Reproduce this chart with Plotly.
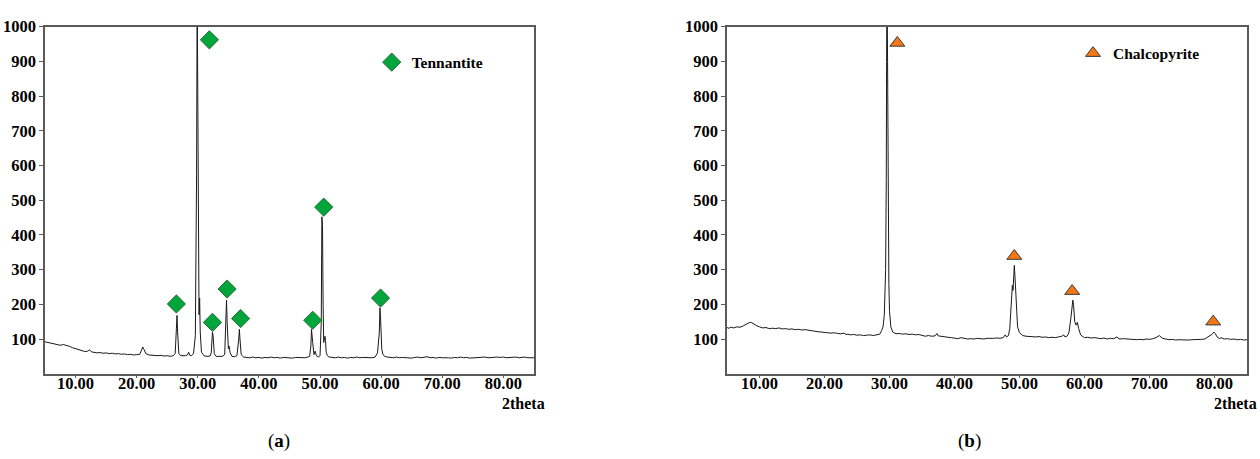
import plotly.graph_objects as go

# ---------------- (a) tennantite concentrate pattern ----------------
tth_a = [5.0, 5.5, 6.0, 6.5, 7.0, 7.5, 8.0, 8.5, 9.0, 9.5, 10.0, 10.5, 11.0, 11.5, 12.0, 12.3, 12.6,
         13.0, 13.5, 14.0, 14.5, 15.0, 15.5, 16.0, 16.5, 17.0, 17.5, 18.0, 18.5, 19.0, 19.5, 20.0, 20.5,
         20.8, 21.0, 21.2, 21.5, 22.0, 22.5, 23.0, 23.5, 24.0, 24.5, 25.0, 25.5, 26.0, 26.3, 26.5, 26.6,
         26.7, 26.9, 27.2, 27.6, 28.0, 28.3, 28.5, 28.7, 29.0, 29.3, 29.6, 29.8, 29.9, 30.0, 30.1, 30.2,
         30.3, 30.4, 30.6, 31.0, 31.5, 32.0, 32.2, 32.4, 32.5, 32.7, 33.0, 33.5, 34.0, 34.4, 34.6, 34.7,
         34.8, 35.0, 35.1, 35.3, 35.6, 36.0, 36.4, 36.7, 36.8, 36.9, 37.1, 37.5, 38.0, 38.5, 39.0, 39.5,
         40.0, 40.5, 41.0, 41.5, 42.0, 42.5, 43.0, 43.5, 44.0, 44.5, 45.0, 45.5, 46.0, 46.5, 47.0, 47.5,
         48.0, 48.3, 48.5, 48.6, 48.8, 49.0, 49.2, 49.4, 49.7, 50.0, 50.2, 50.3, 50.4, 50.5, 50.6, 50.8,
         50.9, 51.0, 51.2, 51.5, 52.0, 52.5, 53.0, 53.5, 54.0, 54.5, 55.0, 55.5, 56.0, 56.5, 57.0, 57.5,
         58.0, 58.5, 59.0, 59.4, 59.7, 59.8, 59.9, 60.0, 60.1, 60.3, 60.6, 61.0, 61.5, 62.0, 62.5, 63.0,
         63.5, 64.0, 64.5, 65.0, 65.5, 66.0, 66.5, 67.0, 67.5, 68.0, 68.5, 69.0, 69.5, 70.0, 70.5, 71.0,
         71.5, 72.0, 72.5, 73.0, 73.5, 74.0, 74.5, 75.0, 75.5, 76.0, 76.5, 77.0, 77.5, 78.0, 78.5, 79.0,
         79.5, 80.0, 80.5, 81.0, 81.5, 82.0, 82.5, 83.0, 83.5, 84.0, 84.5, 85.0]
counts_a = [92, 90, 87, 86, 83, 82, 84, 82, 79, 75, 72, 69, 66, 64, 65, 69, 63,
            62, 60, 61, 59, 60, 58, 59, 57, 58, 56, 57, 55, 56, 54, 55, 56,
            68, 77, 70, 58, 54, 53, 54, 52, 53, 51, 52, 50, 52, 58, 130, 168,
            120, 58, 52, 51, 52, 54, 62, 53, 52, 58, 110, 570, 1100, 800, 210, 170,
            218, 120, 62, 52, 50, 51, 60, 120, 110, 58, 50, 49, 50, 55, 150, 212,
            150, 72, 80, 60, 50, 49, 52, 100, 128, 100, 55, 48, 47, 46, 48, 46,
            47, 45, 47, 46, 48, 46, 47, 45, 47, 46, 47, 45, 47, 46, 47, 46,
            48, 50, 80, 128, 90, 55, 65, 52, 48, 52, 150, 452, 430, 200, 90, 108,
            95, 62, 52, 48, 47, 46, 48, 46, 47, 45, 47, 46, 48, 46, 47, 46,
            47, 46, 48, 60, 120, 190, 160, 120, 70, 55, 50, 48, 47, 46, 48, 46,
            47, 46, 47, 45, 47, 48, 46, 47, 49, 46, 47, 45, 47, 46, 47, 46,
            45, 47, 46, 48, 46, 47, 45, 46, 47, 46, 47, 48, 46, 47, 46, 48,
            47, 48, 46, 47, 46, 48, 46, 47, 48, 46, 47, 46]

ten_tth = [26.5, 31.9, 32.4, 34.8, 37.0, 48.8, 50.6, 59.9]
ten_int = [201, 962, 148, 244, 159, 154, 480, 218]

# ---------------- (b) chalcopyrite concentrate pattern ----------------
tth_b = [5.0, 5.3, 5.6, 6.0, 6.5, 7.0, 7.5, 8.0, 8.5, 8.8, 9.2, 9.6, 10.0, 10.5, 11.0, 11.5, 12.0,
         12.5, 13.0, 13.5, 14.0, 14.5, 15.0, 15.5, 16.0, 16.5, 17.0, 17.5, 18.0, 18.5, 19.0, 19.5, 20.0,
         20.5, 21.0, 21.5, 22.0, 22.5, 23.0, 23.3, 23.6, 24.0, 24.5, 25.0, 25.5, 26.0, 26.5, 27.0, 27.5,
         28.0, 28.5, 28.8, 29.0, 29.2, 29.4, 29.5, 29.6, 29.7, 29.8, 29.9, 30.0, 30.2, 30.5, 31.0, 31.5,
         32.0, 32.5, 33.0, 33.5, 34.0, 34.5, 35.0, 35.5, 36.0, 36.5, 37.0, 37.3, 37.5, 38.0, 38.5, 39.0,
         39.5, 40.0, 40.5, 41.0, 41.5, 42.0, 42.5, 43.0, 43.5, 44.0, 44.5, 45.0, 45.5, 46.0, 46.5, 47.0,
         47.5, 47.8, 48.0, 48.3, 48.5, 48.7, 48.9, 49.0, 49.1, 49.2, 49.3, 49.5, 49.7, 50.0, 50.5, 51.0,
         51.5, 52.0, 52.5, 53.0, 53.5, 54.0, 54.5, 55.0, 55.5, 56.0, 56.5, 56.8, 57.0, 57.3, 57.6, 57.9,
         58.1, 58.2, 58.3, 58.5, 58.7, 58.9, 59.1, 59.4, 59.8, 60.0, 60.5, 61.0, 61.5, 62.0, 62.5, 63.0,
         63.5, 64.0, 64.5, 65.0, 65.3, 66.0, 66.5, 67.0, 67.5, 68.0, 68.5, 69.0, 69.5, 70.0, 70.5, 71.0,
         71.5, 71.8, 72.0, 72.5, 73.0, 73.5, 74.0, 74.5, 75.0, 75.5, 76.0, 76.5, 77.0, 77.5, 78.0, 78.5,
         79.0, 79.3, 79.6, 79.9, 80.1, 80.4, 80.8, 81.0, 81.5, 82.0, 82.5, 83.0, 83.5, 84.0, 84.5, 85.0]
counts_b = [133, 131, 134, 132, 135, 134, 138, 144, 148, 147, 142, 138, 135, 132, 133, 130, 131,
            130, 132, 129, 130, 128, 129, 127, 128, 126, 127, 125, 124, 122, 121, 120, 120,
            118, 117, 118, 116, 115, 117, 113, 114, 112, 113, 111, 112, 110, 111, 112, 110,
            112, 114, 125, 135, 170, 300, 560, 1200, 900, 470, 260, 180, 135, 120, 115, 116,
            114, 115, 113, 114, 112, 113, 110, 108, 110, 108, 109, 116, 109, 107, 106, 105,
            104, 103, 101, 104, 101, 100, 101, 100, 102, 101, 100, 102, 101, 102, 103, 102,
            104, 112, 106, 110, 130, 190, 255, 240, 290, 312, 280, 180, 135, 118, 110, 108,
            107, 108, 106, 107, 105, 106, 104, 105, 104, 106, 108, 112, 106, 108, 118, 160,
            200, 212, 200, 150, 140, 148, 130, 112, 106, 104, 105, 103, 104, 102, 101, 103,
            100, 102, 101, 106, 100, 101, 100, 99, 100, 98, 99, 98, 100, 99, 101, 104,
            110, 106, 102, 100, 98, 99, 97, 98, 97, 98, 97, 98, 98, 97, 99, 100,
            108, 110, 113, 120, 116, 106, 101, 104, 100, 101, 99, 100, 98, 99, 97, 98]

chal_tth = [31.2, 49.2, 58.1, 79.8]
chal_int = [953, 339, 238, 150]

X_TICKS = [10, 20, 30, 40, 50, 60, 70, 80]
Y_TICKS = [100, 200, 300, 400, 500, 600, 700, 800, 900, 1000]

SERIF = "Liberation Serif"
AXIS_GREY = "#5a5a5a"

fig = go.Figure()

fig.add_trace(go.Scatter(x=tth_a, y=counts_a, mode="lines", line=dict(color="#1a1a1a", width=1),
                         showlegend=False, xaxis="x", yaxis="y", hoverinfo="skip"))
fig.add_trace(go.Scatter(x=ten_tth, y=ten_int, mode="markers", name="Tennantite",
                         marker=dict(symbol="diamond", size=14, color="#00a53c",
                                     line=dict(color="#2f6b3a", width=1)),
                         xaxis="x", yaxis="y", legend="legend"))

fig.add_trace(go.Scatter(x=tth_b, y=counts_b, mode="lines", line=dict(color="#1a1a1a", width=1),
                         showlegend=False, xaxis="x2", yaxis="y2", hoverinfo="skip"))
fig.add_trace(go.Scatter(x=chal_tth, y=chal_int, mode="markers", name="Chalcopyrite",
                         marker=dict(symbol="triangle-up", size=13, color="#f57614",
                                     line=dict(color="#3a3a3a", width=1)),
                         xaxis="x2", yaxis="y2", legend="legend2"))

tick_font = dict(family=SERIF, size=16.5, color="black", weight="bold")


def x_axis(domain, anchor):
    return dict(domain=domain, anchor=anchor, range=[5, 85], tickvals=X_TICKS, tickformat=".2f",
                ticks="outside", ticklen=3, tickcolor=AXIS_GREY, showgrid=False, zeroline=False,
                showline=True, linecolor=AXIS_GREY, linewidth=1.5, mirror=True,
                ticklabelstandoff=-9, tickfont=tick_font)


def y_axis(anchor):
    return dict(domain=[0.1895, 0.9608], anchor=anchor, range=[0, 1000], tickvals=Y_TICKS,
                ticks="outside", ticklen=4, tickcolor=AXIS_GREY, showgrid=False, zeroline=False,
                showline=True, linecolor=AXIS_GREY, linewidth=1.5, mirror=True,
                tickfont=tick_font)


legend_style = dict(font=dict(family=SERIF, size=15.5, color="black", weight="bold"),
                    bgcolor="rgba(0,0,0,0)", borderwidth=0, itemwidth=30,
                    xanchor="left", yanchor="middle")

fig.update_layout(
    width=1260, height=459,
    margin=dict(l=0, r=0, t=0, b=0),
    paper_bgcolor="white", plot_bgcolor="white",
    xaxis=x_axis([0.0357, 0.4238], "y"),
    yaxis=y_axis("x"),
    xaxis2=x_axis([0.577, 0.9897], "y2"),
    yaxis2=y_axis("x2"),
    legend=dict(x=0.295, y=0.881, **legend_style),
    legend2=dict(x=0.8516, y=0.901, **legend_style),
    annotations=[
        dict(text="<b>2theta</b>", x=0.4345, y=1 - 402 / 459, xref="paper", yref="paper",
             showarrow=False, xanchor="right", yanchor="middle",
             font=dict(family=SERIF, size=16, color="black")),
        dict(text="<b>2theta</b>", x=0.999, y=1 - 402 / 459, xref="paper", yref="paper",
             showarrow=False, xanchor="right", yanchor="middle",
             font=dict(family=SERIF, size=16, color="black")),
        dict(text="(<b>a</b>)", x=279 / 1260, y=1 - 441 / 459, xref="paper", yref="paper",
             showarrow=False, xanchor="center", yanchor="middle",
             font=dict(family=SERIF, size=19, color="black")),
        dict(text="(<b>b</b>)", x=969 / 1260, y=1 - 441 / 459, xref="paper", yref="paper",
             showarrow=False, xanchor="center", yanchor="middle",
             font=dict(family=SERIF, size=19, color="black")),
    ],
)

fig.write_html("out.html")
